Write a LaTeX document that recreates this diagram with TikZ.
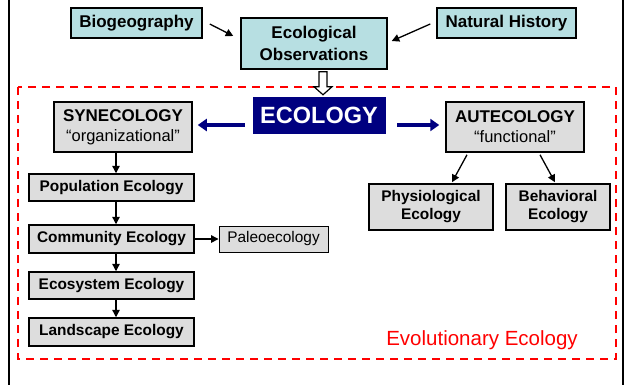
\documentclass[tikz,border=0pt]{standalone}
\usepackage{fontspec}
\setmainfont{Liberation Sans}
\usetikzlibrary{arrows.meta,calc}
\definecolor{teal1}{RGB}{183,223,226}
\definecolor{gray1}{RGB}{221,221,221}
\definecolor{navy1}{RGB}{0,0,128}
\begin{document}
\begin{tikzpicture}[x=1pt,y=-1pt,
  topbox/.style={draw, line width=1.5pt, fill=teal1, inner sep=0pt, align=center,
    font=\fontsize{17}{22}\selectfont\bfseries},
  graybox/.style={draw, line width=1.5pt, fill=gray1, inner sep=0pt, align=center,
    font=\fontsize{15.4}{18}\selectfont\bfseries},
  bigbox/.style={draw, line width=1.5pt, fill=gray1, inner sep=0pt, align=center,
    font=\fontsize{17}{20}\selectfont\bfseries},
  thinbox/.style={draw, line width=0.9pt, fill=gray1, inner sep=0pt, align=center,
    font=\fontsize{15.4}{18}\selectfont},
  arr/.style={-{Triangle[length=7.5pt,width=7.5pt]}, line width=1.3pt},
  navyarr/.style={-{Triangle[length=9pt,width=12pt]}, line width=4pt, draw=navy1},
]
\useasboundingbox (0,0) rectangle (628,384);
% outer frame
\draw[line width=2pt] (9,-5) -- (9,390);
\draw[line width=2pt] (623,-5) -- (623,390);
% red dashed region
\draw[red, line width=1.8pt, dash pattern=on 8pt off 6pt] (18,87) rectangle (616,359);
\node[text=red, font=\fontsize{20.5}{24}\selectfont] (evo) at (482,340) {Evolutionary Ecology};

% top boxes
\node[topbox, minimum width=131, minimum height=30] (bio) at (136.5,23) {Biogeography};
\node[topbox, minimum width=139, minimum height=30] (nat) at (506.5,23) {Natural History};
\node[topbox, minimum width=146, minimum height=51] (obs) at (314,43.5) {Ecological\\Observations};

% ecology
\node[draw=navy1, fill=navy1, text=white, minimum width=132, minimum height=36, inner sep=0pt,
  font=\fontsize{23.5}{26}\selectfont\bfseries] (eco) at (319,115) {ECOLOGY};

% block arrow
\coordinate (ba) at ($(obs.south)+(9,2)$);
\draw[fill=white, line width=1.2pt] ($(ba)+(-4,0)$) -- ($(ba)+(4,0)$) -- ($(ba)+(4,15)$) -- ($(ba)+(9,15)$)
  -- ($(ba)+(0,23)$) -- ($(ba)+(-9,15)$) -- ($(ba)+(-4,15)$) -- cycle;

% syn / aut
\node[bigbox, minimum width=138, minimum height=50] (syn) at (123,127)
  {SYNECOLOGY\\\fontsize{16.5}{20}\selectfont\mdseries “organizational”};
\node[bigbox, minimum width=138, minimum height=50] (aut) at (515,127)
  {AUTECOLOGY\\\fontsize{16.5}{20}\selectfont\mdseries “functional”};

% left chain
\node[graybox, minimum width=165, minimum height=27] (pop) at (111.5,187.5) {Population Ecology};
\node[graybox, minimum width=165, minimum height=28] (com) at (111.5,239) {Community Ecology};
\node[thinbox, minimum width=109, minimum height=26] (pal) at (273.5,239) {Paleoecology};
\node[graybox, minimum width=165, minimum height=27] (esy) at (111.5,285.5) {Ecosystem Ecology};
\node[graybox, minimum width=165, minimum height=28] (lan) at (111.5,332) {Landscape Ecology};

% right children
\node[graybox, minimum width=124, minimum height=46] (phy) at (431,207) {Physiological\\Ecology};
\node[graybox, minimum width=104, minimum height=46] (beh) at (558,207) {Behavioral\\Ecology};

% arrows top
\draw[arr] ($(bio.east)+(7,1)$) -- ($(obs.west)+(-7,-7.5)$);
\draw[arr] ($(nat.west)+(-6,1)$) -- ($(obs.east)+(4,-2.5)$);

% navy arrows
\coordinate (ay) at (0,125);
\draw[navyarr] ($(eco.west|-ay)+(-8,0)$) -- ($(syn.east|-ay)+(5,0)$);
\draw[navyarr] ($(eco.east|-ay)+(12,0)$) -- ($(aut.west|-ay)+(-6,0)$);

% vertical chain arrows
\coordinate (ax) at (116,0);
\draw[arr] (syn.south-|ax) -- (pop.north-|ax);
\draw[arr] (pop.south-|ax) -- (com.north-|ax);
\draw[arr] (com.south-|ax) -- (esy.north-|ax);
\draw[arr] (esy.south-|ax) -- (lan.north-|ax);
\draw[arr] (com.east) -- (pal.west);

% aut arrows
\draw[arr] ($(aut.south)+(-48,2)$) -- ($(phy.north)+(21,-1)$);
\draw[arr] ($(aut.south)+(25,2)$) -- ($(beh.north)+(-3,-1)$);
\end{tikzpicture}
\end{document}
